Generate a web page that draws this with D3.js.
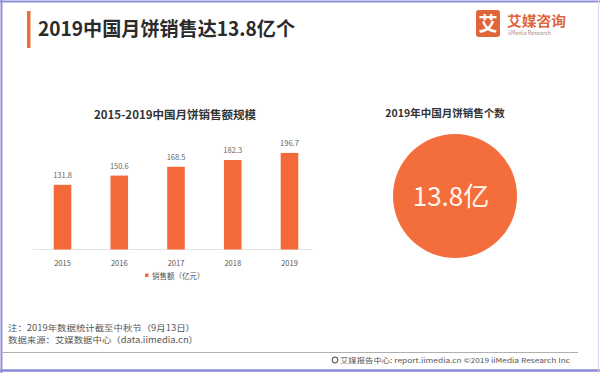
<!DOCTYPE html>
<html>
<head>
<meta charset="utf-8">
<script src="https://cdn.jsdelivr.net/npm/d3@7"></script>
<style>
  html, body { margin: 0; padding: 0; background: #fff; }
  svg { display: block; font-family: "Noto Sans CJK SC", "Noto Sans", sans-serif; }
</style>
</head>
<body>
<svg id="chart" width="600" height="373"></svg>
<script>
// ── Data ──────────────────────────────────────────────
const years  = ['2015', '2016', '2017', '2018', '2019'];
const sales  = [131.8, 150.6, 168.5, 182.3, 196.7];   // 亿元
const units2019 = '13.8亿';

const TITLE     = '2019中国月饼销售达13.8亿个';
const BAR_TITLE = '2015-2019中国月饼销售额规模';
const PIE_TITLE = '2019年中国月饼销售个数';
const LEGEND    = '销售额（亿元）';
const NOTES = [
  '注：2019年数据统计截至中秋节（9月13日）',
  '数据来源：艾媒数据中心（data.iimedia.cn）'
];
const FOOTER = '艾媒报告中心: report.iimedia.cn  ©2019  iiMedia Research  Inc';

const ORANGE = '#f4693a';

const svg = d3.select('#chart');

// frame
svg.append('rect').attr('x', 0).attr('y', 0).attr('width', 600).attr('height', 373).attr('fill', '#fff');
svg.append('line').attr('x1', 0).attr('x2', 600).attr('y1', 1.5).attr('y2', 1.5)
  .attr('stroke', '#9090d8').attr('stroke-width', 2);
svg.append('line').attr('x1', 0).attr('x2', 600).attr('y1', 370.5).attr('y2', 370.5)
  .attr('stroke', '#8a8ad6').attr('stroke-width', 2.5);
svg.append('line').attr('x1', 1.5).attr('x2', 1.5).attr('y1', 0).attr('y2', 373)
  .attr('stroke', '#9090d8').attr('stroke-width', 2);
svg.append('line').attr('x1', 598.5).attr('x2', 598.5).attr('y1', 0).attr('y2', 373)
  .attr('stroke', '#d8d8ee').attr('stroke-width', 1);

// header
svg.append('rect').attr('x', 27).attr('y', 11).attr('width', 3.5).attr('height', 37)
  .attr('fill', '#e8703c');
svg.append('text').attr('x', 38).attr('y', 36)
  .attr('font-size', 19.5).attr('font-weight', 'bold').attr('fill', '#2b2b2b')
  .attr('textLength', 257).attr('lengthAdjust', 'spacingAndGlyphs')
  .text(TITLE);

// logo
const logo = svg.append('g').attr('transform', 'translate(476,10)');
logo.append('rect').attr('width', 24).attr('height', 27).attr('rx', 3).attr('fill', '#e0653a');
logo.append('text').attr('x', 12).attr('y', 21).attr('text-anchor', 'middle')
  .attr('font-size', 19).attr('font-weight', 'bold').attr('fill', '#fff').text('艾');
logo.append('text').attr('x', 31).attr('y', 16)
  .attr('font-size', 14).attr('font-weight', 'bold').attr('fill', '#e0653a')
  .attr('textLength', 59).attr('lengthAdjust', 'spacingAndGlyphs').text('艾媒咨询');
logo.append('text').attr('x', 32).attr('y', 25)
  .attr('font-size', 5.5).attr('fill', '#b08878').text('iiMedia Research');

// ── Bar chart ─────────────────────────────────────────
const x = d3.scaleBand().domain(years).range([35, 317]).paddingInner(0.69).paddingOuter(0.33);
const y = d3.scaleLinear().domain([0, 220]).range([249.5, 141.5]);

svg.append('text').attr('x', 175).attr('y', 119).attr('text-anchor', 'middle')
  .attr('font-size', 11.5).attr('font-weight', 'bold').attr('fill', '#333')
  .text(BAR_TITLE);

svg.append('line').attr('x1', 33).attr('x2', 313).attr('y1', 249.5).attr('y2', 249.5)
  .attr('stroke', '#e4e4e4').attr('stroke-width', 1);

svg.selectAll('.bar').data(sales).join('rect').attr('class', 'bar')
  .attr('x', (d, i) => x(years[i]))
  .attr('width', x.bandwidth())
  .attr('y', d => y(d))
  .attr('height', d => y(0) - y(d))
  .attr('fill', ORANGE);

svg.selectAll('.val').data(sales).join('text').attr('class', 'val')
  .attr('x', (d, i) => x(years[i]) + x.bandwidth() / 2)
  .attr('y', d => y(d) - 7)
  .attr('text-anchor', 'middle').attr('font-size', 7.5).attr('fill', '#666')
  .text(d => d.toFixed(1));

const xAxis = svg.append('g').attr('transform', 'translate(0,249.5)')
  .call(d3.axisBottom(x).tickSize(0).tickPadding(11));
xAxis.select('.domain').remove();
xAxis.selectAll('text').attr('font-size', 7.5).attr('fill', '#555')
  .attr('font-family', '"Noto Sans CJK SC", sans-serif');

// legend
svg.append('rect').attr('x', 145).attr('y', 273.5).attr('width', 3.5).attr('height', 3.5).attr('fill', ORANGE);
svg.append('text').attr('x', 152).attr('y', 278.5)
  .attr('font-size', 7.5).attr('fill', '#555').text(LEGEND);

// ── Circle ────────────────────────────────────────────
svg.append('text').attr('x', 445).attr('y', 117).attr('text-anchor', 'middle')
  .attr('font-size', 10.5).attr('font-weight', 'bold').attr('fill', '#333')
  .text(PIE_TITLE);

const pie = d3.pie().value(d => d)([1]);
const arc = d3.arc().innerRadius(0).outerRadius(62);
svg.append('g').attr('transform', 'translate(455,196)')
  .selectAll('path').data(pie).join('path')
  .attr('d', arc).attr('fill', '#f46d3c');

svg.append('text').attr('x', 451).attr('y', 205.5).attr('text-anchor', 'middle')
  .attr('font-size', 26).attr('fill', '#fff5ee').text(units2019);

// ── Footer ────────────────────────────────────────────
const noteLens = [187, 190];
svg.selectAll('.note').data(NOTES).join('text').attr('class', 'note')
  .attr('x', 8).attr('y', (d, i) => 331 + i * 12)
  .attr('font-size', 8.4).attr('fill', '#555')
  .attr('textLength', (d, i) => noteLens[i]).attr('lengthAdjust', 'spacingAndGlyphs')
  .text(d => d);

svg.append('line').attr('x1', 3).attr('x2', 578).attr('y1', 352.5).attr('y2', 352.5)
  .attr('stroke', '#b0b0b0').attr('stroke-width', 1);

svg.append('circle').attr('cx', 335).attr('cy', 360).attr('r', 2.8)
  .attr('fill', 'none').attr('stroke', '#666').attr('stroke-width', 1.2);
svg.append('text').attr('x', 340).attr('y', 362.5)
  .attr('font-size', 6.8).attr('fill', '#555')
  .attr('textLength', 230).attr('lengthAdjust', 'spacingAndGlyphs')
  .text(FOOTER);
</script>
</body>
</html>
